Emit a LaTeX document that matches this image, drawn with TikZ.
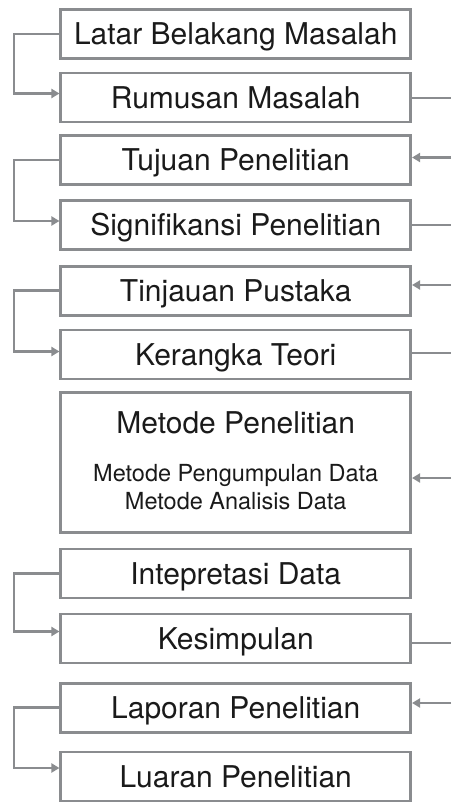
\documentclass[tikz,border=0pt]{standalone}
\usepackage{fontspec}
\setmainfont{TeX Gyre Heros}
\usetikzlibrary{arrows.meta}
\definecolor{linegrey}{HTML}{8A8C8F}
\definecolor{textblack}{HTML}{1A1A1A}
\tikzset{
  box/.style={draw=linegrey, line width=2.6pt, minimum width=350pt, minimum height=49pt, inner sep=0pt},
  big/.style={text=textblack, font=\fontsize{30}{36}\selectfont, text height=21.5pt, text depth=0pt, inner sep=0pt},
  small/.style={text=textblack, font=\fontsize{23.5}{28}\selectfont, text height=16.9pt, text depth=0pt, inner sep=0pt},
  conn/.style={draw=linegrey, line width=2.6pt},
  arr/.style={conn, -{Triangle[length=8pt,width=9pt]}}
}
\begin{document}
\begin{tikzpicture}[x=1pt,y=-1pt]
\useasboundingbox (0,0) rectangle (451,802);
% boxes
\node[box] (b1) at (235.75,34) {};
\node[box] (b2) at (235.75,97.5) {};
\node[box] (b3) at (235.75,160) {};
\node[box] (b4) at (235.75,224.75) {};
\node[box] (b5) at (235.75,290.75) {};
\node[box] (b6) at (235.75,354.5) {};
\node[box, minimum height=140pt] (b7) at (235.75,462.75) {};
\node[box] (b8) at (235.75,573.5) {};
\node[box] (b9) at (235.75,638.5) {};
\node[box] (b10) at (235.75,707.75) {};
\node[box] (b11) at (235.75,776.5) {};
% texts
\node[big] (t1) at (b1) {Latar Belakang Masalah};
\node[big] (t2) at (b2) {Rumusan Masalah};
\node[big] (t3) at (b3) {Tujuan Penelitian};
\node[big] (t4) at (b4) {Signifikansi Penelitian};
\node[big] (t5) at (b5) {Tinjauan Pustaka};
\node[big] (t6) at (b6) {Kerangka Teori};
\node[big] (t7) at (235.75,423) {Metode Penelitian};
\node[small] (t7a) at (235.75,473) {Metode Pengumpulan Data};
\node[small] (t7b) at (235.75,501) {Metode Analisis Data};
\node[big] (t8) at (b8) {Intepretasi Data};
\node[big] (t9) at (b9) {Kesimpulan};
\node[big] (t10) at (b10) {Laporan Penelitian};
\node[big] (t11) at (b11) {Luaran Penelitian};
% left connectors
\draw[arr] (b1.west) -- ++(-45.5,0) |- ([yshift=4pt]b2.west);
\draw[arr] (b3.west) -- ++(-45.5,0) |- ([yshift=3.75pt]b4.west);
\draw[arr] (b5.west) -- ++(-45.5,0) |- ([yshift=3pt]b6.west);
\draw[arr] (b8.west) -- ++(-45.5,0) |- ([yshift=7pt]b9.west);
\draw[arr] (b10.west) -- ++(-45.5,0) |- ([yshift=8.5pt]b11.west);
% right edge coordinates
\coordinate (e2) at (451,98);
\coordinate (e3) at (451,157.5);
\coordinate (e4) at (451,225);
\coordinate (e5) at (451,285);
\coordinate (e6) at (451,353);
\coordinate (e7) at (451,478);
\coordinate (e9) at (451,643);
\coordinate (e10) at (451,703);
\draw[conn] (e2 -| b2.east) -- (e2);
\draw[arr] (e3) -- (e3 -| b3.east);
\draw[conn] (e4 -| b4.east) -- (e4);
\draw[arr] (e5) -- (e5 -| b5.east);
\draw[conn] (e6 -| b6.east) -- (e6);
\draw[arr] (e7) -- (e7 -| b7.east);
\draw[conn] (e9 -| b9.east) -- (e9);
\draw[arr] (e10) -- (e10 -| b10.east);
\end{tikzpicture}
\end{document}
